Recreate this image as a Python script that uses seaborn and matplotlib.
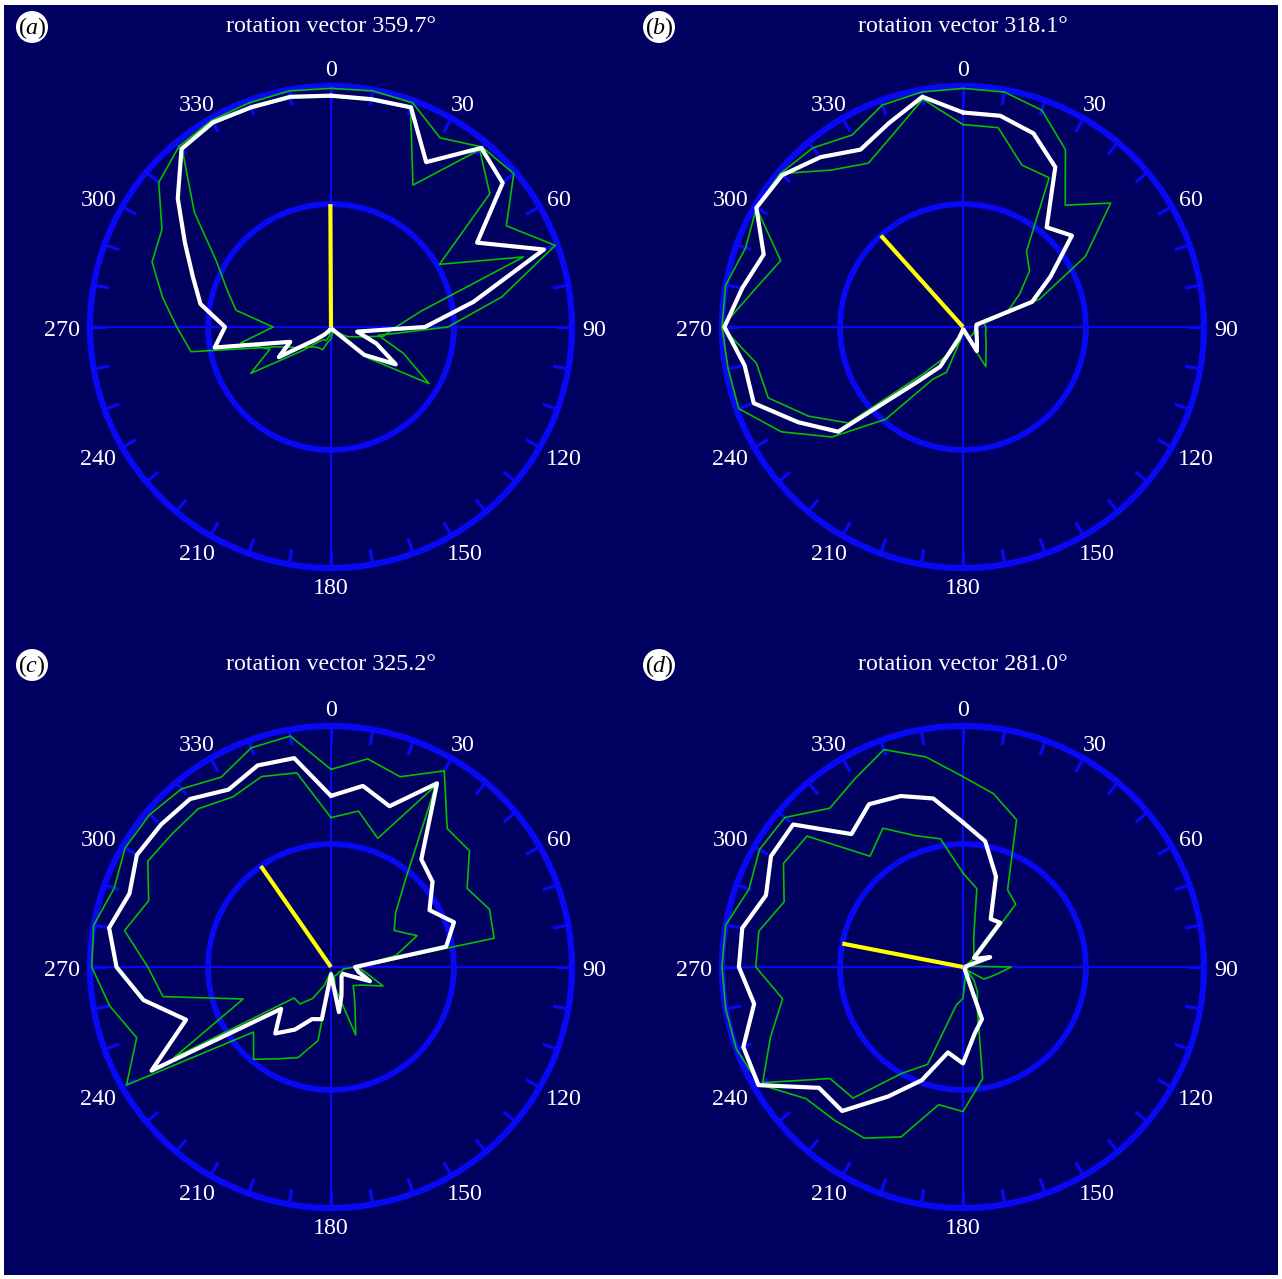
import numpy as np
import pandas as pd
import matplotlib
matplotlib.use("Agg")
import matplotlib.pyplot as plt
import seaborn as sns
from matplotlib.patches import Rectangle, Ellipse

sns.set_theme(style="white")
plt.rcParams["font.family"] = ["Liberation Serif", "DejaVu Serif"]
plt.rcParams["mathtext.fontset"] = "custom"
plt.rcParams["mathtext.rm"] = "Liberation Serif"
plt.rcParams["mathtext.it"] = "Liberation Serif:italic"

# ---------------- data ----------------
ANGLES_DEG = [0, 10, 20, 30, 40, 50, 60, 70, 80, 90, 100, 110,
              120, 130, 140, 150, 160, 170, 180, 190, 200, 210, 220, 230,
              240, 250, 260, 270, 280, 290, 300, 310, 320, 330, 340, 350]
PANEL_LETTERS = ["a", "b", "c", "d"]
ROTATION_DEG = [359.7, 318.1, 325.2, 281.0]
VECTOR_LENGTH = [0.51, 0.51, 0.51, 0.51]
LABEL_ANGLES = [0, 30, 60, 90, 120, 150, 180, 210, 240, 270, 300, 330]
LABEL_TEXT = ["0", "30", "60", "90", "120", "150", "180", "210", "240", "270", "300", "330"]
INNER_RING = 0.51

# panel (a)
MEAN_A = [0.96, 0.96, 0.97, 0.79, 0.97, 0.93, 0.70, 0.94, 0.60, 0.39, 0.11, 0.20,
          0.31, 0.18, 0.02, 0.01, 0.01, 0.01, 0.01, 0.01, 0.01, 0.02, 0.04, 0.08,
          0.25, 0.18, 0.49, 0.44, 0.55, 0.61, 0.70, 0.83, 0.965, 0.98, 0.97, 0.97]
UPPER_A = [0.99, 0.995, 0.99, 0.906, 0.975, 0.99, 0.84, 0.99, 0.72, 0.485, 0.20, 0.32,
           0.47, 0.20, 0.03, 0.02, 0.02, 0.03, 0.05, 0.06, 0.10, 0.10, 0.108, 0.13,
           0.17, 0.24, 0.59, 0.64, 0.71, 0.79, 0.81, 0.933, 0.98, 0.99, 0.99, 0.995]
LOWER_A = [0.955, 0.955, 0.965, 0.68, 0.96, 0.86, 0.52, 0.85, 0.38, 0.27, 0.22, 0.12,
           0.08, 0.04, 0.02, 0.01, 0.01, 0.01, 0.01, 0.04, 0.06, 0.06, 0.08, 0.15,
           0.385, 0.27, 0.38, 0.24, 0.40, 0.46, 0.55, 0.74, 0.96, 0.975, 0.965, 0.965]

# panel (b)
MEAN_B = [0.89, 0.89, 0.855, 0.766, 0.54, 0.59, 0.42, 0.305, 0.057, 0.055, 0.056, 0.06,
          0.065, 0.075, 0.09, 0.115, 0.02, 0.01, 0.01, 0.02, 0.05, 0.19, 0.30, 0.676,
          0.79, 0.924, 0.92, 0.99, 0.93, 0.88, 0.99, 0.98, 0.92, 0.85, 0.90, 0.97]
UPPER_B = [0.99, 0.99, 0.957, 0.85, 0.66, 0.80, 0.587, 0.338, 0.088, 0.095, 0.096, 0.10,
           0.11, 0.125, 0.148, 0.19, 0.04, 0.02, 0.02, 0.05, 0.20, 0.25, 0.50, 0.71,
           0.87, 0.99, 0.99, 1.0, 1.0, 0.96, 0.99, 0.99, 0.97, 0.92, 0.98, 0.99]
LOWER_B = [0.84, 0.84, 0.715, 0.715, 0.41, 0.36, 0.27, 0.20, 0.07, 0.06, 0.05, 0.05,
           0.05, 0.05, 0.05, 0.05, 0.02, 0.01, 0.01, 0.01, 0.08, 0.14, 0.25, 0.62,
           0.74, 0.86, 0.87, 1.0, 0.88, 0.805, 0.99, 0.99, 0.85, 0.785, 0.85, 0.96]

# panel (c)
MEAN_C = [0.71, 0.763, 0.71, 0.88, 0.583, 0.55, 0.472, 0.543, 0.485, 0.10, 0.116, 0.172,
          0.057, 0.057, 0.068, 0.088, 0.127, 0.19, 0.03, 0.22, 0.23, 0.30, 0.36, 0.27,
          0.86, 0.64, 0.79, 0.89, 0.935, 0.89, 0.93, 0.92, 0.91, 0.85, 0.89, 0.88]
UPPER_C = [0.82, 0.877, 0.84, 0.94, 0.75, 0.75, 0.652, 0.70, 0.687, 0.11, 0.15, 0.23,
           0.15, 0.12, 0.15, 0.20, 0.30, 0.08, 0.03, 0.31, 0.40, 0.44, 0.50, 0.42,
           0.98, 0.858, 0.932, 0.993, 1.0, 0.957, 0.987, 0.983, 0.965, 0.91, 0.968, 0.973]
LOWER_C = [0.62, 0.657, 0.568, 0.87, 0.485, 0.35, 0.303, 0.38, 0.273, 0.10, 0.05, 0.05,
           0.04, 0.04, 0.04, 0.04, 0.04, 0.10, 0.02, 0.03, 0.08, 0.15, 0.20, 0.20,
           0.753, 0.388, 0.708, 0.76, 0.87, 0.805, 0.878, 0.86, 0.857, 0.815, 0.841, 0.818]

# panel (d)
MEAN_D = [0.60, 0.53, 0.40, 0.23, 0.24, 0.06, 0.07, 0.12, 0.01, 0.01, 0.01, 0.01,
          0.01, 0.01, 0.01, 0.02, 0.23, 0.28, 0.40, 0.36, 0.50, 0.62, 0.78, 0.78,
          0.98, 0.97, 0.88, 0.93, 0.93, 0.87, 0.92, 0.92, 0.72, 0.78, 0.755, 0.71]
UPPER_D = [0.79, 0.73, 0.65, 0.37, 0.34, 0.09, 0.03, 0.02, 0.02, 0.20, 0.15, 0.12,
           0.10, 0.02, 0.07, 0.12, 0.17, 0.47, 0.60, 0.58, 0.75, 0.82, 0.83, 0.85,
           0.975, 1.0, 1.0, 1.0, 1.0, 0.945, 0.975, 0.965, 0.86, 0.90, 0.96, 0.885]
LOWER_D = [0.39, 0.33, 0.13, 0.09, 0.07, 0.064, 0.02, 0.02, 0.02, 0.02, 0.02, 0.02,
           0.02, 0.02, 0.02, 0.02, 0.03, 0.05, 0.13, 0.16, 0.43, 0.51, 0.71, 0.72,
           0.96, 0.85, 0.76, 0.86, 0.86, 0.79, 0.86, 0.845, 0.60, 0.665, 0.58, 0.54]

MEANS = [MEAN_A, MEAN_B, MEAN_C, MEAN_D]
UPPERS = [UPPER_A, UPPER_B, UPPER_C, UPPER_D]
LOWERS = [LOWER_A, LOWER_B, LOWER_C, LOWER_D]

# ---------------- style / layout ----------------
NAVY = "#000060"
BLUE = "#0808F5"
GREEN = "#00C000"
WHITE = "#FFFFFF"
YELLOW = "#FFFF00"

W, H, DPI = 1282, 1279, 100
R_PX = 241
CENTERS = [(331, 327), (963, 327), (331, 967), (963, 967)]
TITLE_Y = [25, 25, 664, 664]
BADGE_XY = [(32, 27), (659, 27), (32, 665), (659, 665)]
FS = 17.3
DROP = 3  # pixels: visual centring of digits
DIGIT_W = 11.7

fig = plt.figure(figsize=(W / DPI, H / DPI), dpi=DPI, facecolor="white")
fig.add_artist(Rectangle((4 / W, 4 / H), (1278 - 4) / W, (1274 - 4) / H,
                         transform=fig.transFigure, facecolor=NAVY,
                         edgecolor="none", zorder=-10))


def closed_frame(values):
    th = np.deg2rad(ANGLES_DEG + [360])
    rr = list(values) + [values[0]]
    return pd.DataFrame({"theta": th, "r": rr})


for i, (cx, cy) in enumerate(CENTERS):
    rect = [(cx - R_PX) / W, (H - cy - R_PX) / H, 2 * R_PX / W, 2 * R_PX / H]
    ax = fig.add_axes(rect, projection="polar")
    ax.set_theta_zero_location("N")
    ax.set_theta_direction(-1)
    ax.set_facecolor(NAVY)
    ax.patch.set_alpha(0)
    ax.grid(False)

    # crosshair
    for a in [0, 90, 180, 270]:
        ax.plot([np.deg2rad(a)] * 2, [0, 1], color=BLUE, lw=1.6, zorder=1)
    # inner ring
    ring_t = np.linspace(0, 2 * np.pi, 361)
    ax.plot(ring_t, np.full_like(ring_t, INNER_RING), color=BLUE, lw=4.2, zorder=1)
    # ticks every 10 degrees
    for a in ANGLES_DEG:
        ax.plot([np.deg2rad(a)] * 2, [0.935, 1.0], color=BLUE, lw=2.3, zorder=1,
                solid_capstyle="butt")

    # confidence lines and mean
    for vals in (UPPERS[i], LOWERS[i]):
        sns.lineplot(data=closed_frame(vals), x="theta", y="r", sort=False,
                     estimator=None, ax=ax, color=GREEN, lw=1.2, zorder=3,
                     clip_on=False)
    sns.lineplot(data=closed_frame(MEANS[i]), x="theta", y="r", sort=False,
                 estimator=None, ax=ax, color=WHITE, lw=3.0, zorder=4,
                 clip_on=False)

    # rotation vector
    rot = np.deg2rad(ROTATION_DEG[i])
    ax.plot([rot, rot], [0, VECTOR_LENGTH[i]], color=YELLOW, lw=3.0, zorder=5,
            solid_capstyle="butt")

    ax.set_xlim(0, 2 * np.pi)
    ax.set_ylim(0, 1)
    ax.set_xticks([])
    ax.set_yticks([])
    ax.set_xlabel("")
    ax.set_ylabel("")
    ax.spines["polar"].set_color(BLUE)
    ax.spines["polar"].set_linewidth(4.5)

    # angle labels outside the ring (positioned from their angle)
    for a, lab in zip(LABEL_ANGLES, LABEL_TEXT):
        t = np.deg2rad(a)
        rx = R_PX + 10 + DIGIT_W * len(lab) / 2
        ry = R_PX + 18
        px = cx + rx * np.sin(t)
        py = cy - ry * np.cos(t) + DROP
        fig.text(px / W, 1 - py / H, lab, color="white", fontsize=FS,
                 ha="center", va="center")

    # title
    fig.text(cx / W, 1 - (TITLE_Y[i] + 1) / H,
             f"rotation vector {ROTATION_DEG[i]:.1f}\u00b0",
             color="white", fontsize=FS, ha="center", va="center")

    # panel badge
    bx, by = BADGE_XY[i]
    fig.add_artist(Ellipse((bx / W, 1 - by / H), 32 / W, 32 / H,
                           transform=fig.transFigure, facecolor="white",
                           edgecolor="none", zorder=5))
    fig.text(bx / W, 1 - (by + 1) / H, r"$(\mathit{" + PANEL_LETTERS[i] + r"})$",
             color="black", fontsize=FS, ha="center", va="center", zorder=6)

fig.savefig("out.png", dpi=DPI, facecolor="white")
